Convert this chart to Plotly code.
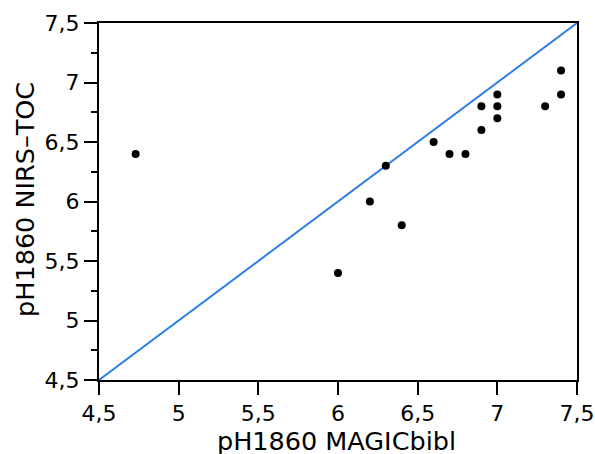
import plotly.graph_objects as go

x_magic = [4.73, 6.0, 6.2, 6.3, 6.4, 6.6, 6.7, 6.8, 6.9, 6.9, 7.0, 7.0, 7.0, 7.3, 7.4, 7.4]
y_nirs = [6.4, 5.4, 6.0, 6.3, 5.8, 6.5, 6.4, 6.4, 6.6, 6.8, 6.9, 6.8, 6.7, 6.8, 7.1, 6.9]
line_x = [4.5, 7.5]
line_y = [4.5, 7.5]
tick_vals = [4.5, 5, 5.5, 6, 6.5, 7, 7.5]
x_title = "pH1860 MAGICbibl"
y_title = "pH1860 NIRS–TOC"

FONT = "DejaVu Sans"

fig = go.Figure()
fig.add_trace(go.Scatter(x=line_x, y=line_y, mode="lines",
                         line=dict(color="#2f7fe8", width=2), hoverinfo="skip"))
fig.add_trace(go.Scatter(x=x_magic, y=y_nirs, mode="markers",
                         marker=dict(color="black", size=8), cliponaxis=False))

axis_common = dict(
    range=[4.5, 7.5], tickvals=tick_vals, ticks="outside", ticklen=13, tickwidth=2,
    tickcolor="black", showline=True, linecolor="black", linewidth=2, mirror=True,
    showgrid=False, zeroline=False, tickfont=dict(family=FONT, size=22, color="black"),
    automargin=False,
)

fig.update_xaxes(**axis_common)
fig.update_yaxes(**axis_common,
                 minor=dict(ticks="outside", ticklen=6, tickwidth=2, tickcolor="black", dtick=0.25, showgrid=False))

fig.add_annotation(text=x_title, xref="paper", yref="paper", x=0.497, y=-0.172,
                   xanchor="center", yanchor="middle", showarrow=False,
                   font=dict(family=FONT, size=25.5, color="black"))
fig.add_annotation(text=y_title, xref="paper", yref="paper", x=-0.155, y=0.507,
                   xanchor="center", yanchor="middle", showarrow=False, textangle=-90,
                   font=dict(family=FONT, size=25.5, color="black"))

fig.update_layout(
    width=595, height=454,
    margin=dict(l=99, r=18, t=23, b=74, autoexpand=False),
    paper_bgcolor="white", plot_bgcolor="white",
    showlegend=False, separators=", ",
    font=dict(family=FONT, color="black"),
)

fig.write_html("out.html")
